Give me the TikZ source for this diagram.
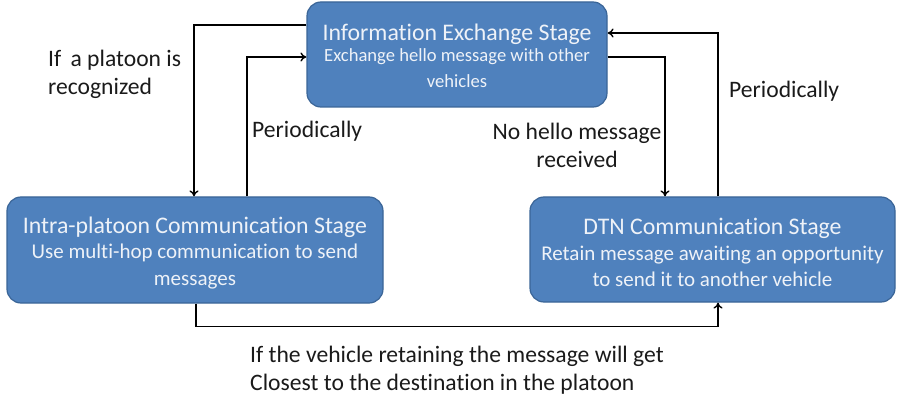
\documentclass[tikz,border=0pt]{standalone}
\usepackage{fontspec}
\setmainfont[Ligatures=NoCommon]{Carlito}
\usetikzlibrary{arrows.meta}
\definecolor{boxfill}{HTML}{4F81BD}
\definecolor{boxline}{HTML}{3A6597}
\definecolor{boxtext}{HTML}{EEF2F8}
\definecolor{labeltext}{HTML}{1A1A1A}
\newcommand{\ttl}{\fontsize{23.8}{27}\selectfont}
\newcommand{\subA}{\fontsize{18.6}{21}\selectfont}
\newcommand{\subB}{\fontsize{21}{25}\selectfont}
\tikzset{
  stagebox/.style={draw=boxline, line width=1.2pt, fill=boxfill, rounded corners=14pt, inner sep=0pt},
  stagetext/.style={text=boxtext, align=center, inner sep=0pt, anchor=base},
  lbl/.style={text=labeltext, font=\fontsize{23.6}{28}\selectfont, inner sep=0pt},
  arr/.style={line width=1.6pt, -{To[length=6pt,width=9pt,line width=1.4pt]}}
}
\begin{document}
\begin{tikzpicture}[x=1pt,y=-1pt]
\useasboundingbox (0,0) rectangle (897,398);
\node[stagebox, minimum width=300pt, minimum height=105pt] (top) at (457,54.5) {};
\node[stagebox, minimum width=376pt, minimum height=106pt] (left) at (195,250) {};
\node[stagebox, minimum width=365pt, minimum height=105pt] (right) at (712.5,249.5) {};

\node[stagetext, font=\fontsize{18.6}{26}\selectfont] (toptext) at (457,88)
  {\ttl Information Exchange Stage\\[-5pt]\subA Exchange hello message with other\\ \subA vehicles};
\node[stagetext, font=\fontsize{21}{27}\selectfont] (lefttext) at (195,285)
  {\ttl Intra-platoon Communication Stage\\[-2pt]\subB Use multi-hop communication to send\\ \subB messages};
\node[stagetext, font=\fontsize{21}{27}\selectfont] (righttext) at (712.5,287)
  {\ttl DTN Communication Stage\\[-2pt]\subB Retain message awaiting an opportunity\\ \subB to send it to another vehicle};

\draw[arr] ([yshift=29.5pt]top.west) -| ([xshift=-1pt]left.north);
\draw[arr] ([xshift=52pt]left.north) |- ([yshift=-2.5pt]top.west);
\draw[arr] ([yshift=-2.5pt]top.east) -| ([xshift=-47.5pt]right.north);
\draw[arr] ([xshift=5.5pt]right.north) |- ([yshift=21.5pt]top.east);
\draw[arr] ([xshift=1pt]left.south) -- ++(0,23) coordinate (bend) -| ([xshift=5.5pt]right.south);

\node[lbl, anchor=base west, align=left] (l1) at (48,95) {If\, a platoon is\\recognized};
\node[lbl, anchor=base west] (l2) at (252,138) {Periodically};
\node[lbl, anchor=base, align=center] (l3) at (577,168) {No hello message\\received};
\node[lbl, anchor=base west] (l4) at (729,98) {Periodically};
\node[lbl, anchor=base west, align=left] (l5) at (250,390) {If the vehicle retaining the message will get\\Closest to the destination in the platoon};
\end{tikzpicture}
\end{document}
